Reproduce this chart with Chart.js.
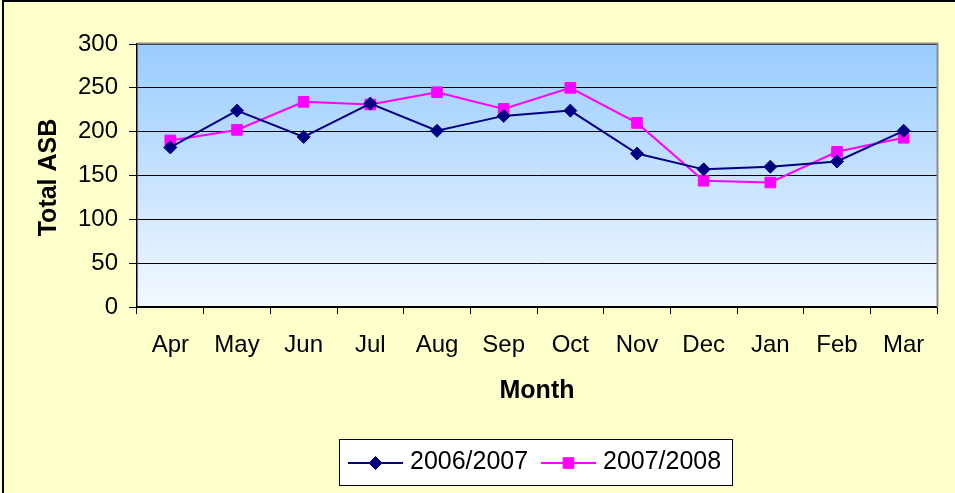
<!DOCTYPE html>
<html><head><meta charset="utf-8">
<script src="https://cdn.jsdelivr.net/npm/chart.js@4/dist/chart.umd.min.js"></script>
<style>html,body{margin:0;padding:0;background:#FFFFCC;overflow:hidden}#wrap{width:955px;height:493px;position:relative}</style>
</head><body><div id="wrap"><canvas id="c" width="955" height="493"></canvas></div>
<script>
const months = ['Apr','May','Jun','Jul','Aug','Sep','Oct','Nov','Dec','Jan','Feb','Mar'];
const series1Label = '2006/2007';
const series1 = [182,224,194,232,201,218,224,175,157,160,166,201];
const series2Label = '2007/2008';
const series2 = [190,202,234,231,245,226,250,210,144,142,177,193];
const yTicks = [0,50,100,150,200,250,300];
const xTitle = 'Month';
const yTitle = 'Total ASB';

const FONT = '"Liberation Sans", Arial, sans-serif';

const decor = {
  id: 'decor',
  beforeDraw(chart) {
    const {ctx, chartArea: a} = chart;
    ctx.save();
    ctx.fillStyle = '#FFFFCC';
    ctx.fillRect(0, 0, chart.width, chart.height);
    const g = ctx.createLinearGradient(0, a.top, 0, a.bottom);
    g.addColorStop(0, '#99CCFF');
    g.addColorStop(1, '#F3F9FF');
    ctx.fillStyle = g;
    ctx.fillRect(a.left, a.top, a.right - a.left, a.bottom - a.top);
    ctx.restore();
  },
  afterDraw(chart) {
    const {ctx, chartArea: a} = chart;
    ctx.save();
    ctx.strokeStyle = '#8C8C8C';
    ctx.lineWidth = 2;
    ctx.beginPath();
    ctx.moveTo(a.left, a.top - 0.5);
    ctx.lineTo(a.right + 0.5, a.top - 0.5);
    ctx.lineTo(a.right + 0.5, a.bottom);
    ctx.stroke();
    ctx.strokeStyle = '#000';
    ctx.lineWidth = 2;
    ctx.beginPath();
    ctx.moveTo(3, chart.height);
    ctx.lineTo(3, 1);
    ctx.lineTo(chart.width, 1);
    ctx.stroke();
    ctx.fillStyle = '#000';
    ctx.font = 'bold 25px ' + FONT;
    ctx.textAlign = 'center';
    ctx.textBaseline = 'alphabetic';
    ctx.fillText(xTitle, (a.left + a.right) / 2, 398);
    ctx.save();
    ctx.translate(56, (a.top + a.bottom) / 2 + 2);
    ctx.rotate(-Math.PI / 2);
    ctx.fillText(yTitle, 0, 0);
    ctx.restore();
    const lx = 339.5, ly = 439.5, lw = 393, lh = 46;
    ctx.fillStyle = '#FFFFFF';
    ctx.fillRect(lx, ly, lw, lh);
    ctx.strokeStyle = '#000';
    ctx.lineWidth = 1;
    ctx.strokeRect(lx, ly, lw, lh);
    const cy = 463;
    chart.data.datasets.forEach((d, i) => {
      const x0 = i === 0 ? 348 : 541;
      ctx.strokeStyle = d.borderColor;
      ctx.lineWidth = 2;
      ctx.beginPath();
      ctx.moveTo(x0, cy);
      ctx.lineTo(x0 + 55, cy);
      ctx.stroke();
      ctx.fillStyle = d.pointBackgroundColor;
      ctx.strokeStyle = d.pointBorderColor;
      ctx.lineWidth = 1;
      Chart.helpers.drawPoint(ctx, {pointStyle: d.pointStyle, radius: d.pointRadius, borderWidth: 1, rotation: 0}, x0 + 27.5, cy);
      ctx.fillStyle = '#000';
      ctx.font = '25px ' + FONT;
      ctx.textAlign = 'left';
      ctx.textBaseline = 'alphabetic';
      ctx.fillText(d.label, x0 + 62, 469);
    });
    ctx.restore();
  }
};

new Chart(document.getElementById('c'), {
  type: 'line',
  data: {
    labels: months,
    datasets: [
      {label: series1Label, data: series1, borderColor: '#000080', backgroundColor: '#000080',
       pointBackgroundColor: '#000080', pointBorderColor: '#000080', borderWidth: 2,
       pointStyle: 'rectRot', pointRadius: 6.5, pointBorderWidth: 1, tension: 0},
      {label: series2Label, data: series2, borderColor: '#FF00FF', backgroundColor: '#FF00FF',
       pointBackgroundColor: '#FF00FF', pointBorderColor: '#FF00FF', borderWidth: 2,
       pointStyle: 'rect', pointRadius: 7.5, pointBorderWidth: 1, tension: 0}
    ]
  },
  options: {
    responsive: false,
    animation: false,
    devicePixelRatio: 1,
    layout: {padding: {left: 0, top: 44, right: 18, bottom: 0}},
    plugins: {legend: {display: false}, tooltip: {enabled: false}},
    scales: {
      x: {
        type: 'category',
        offset: true,
        grid: {offset: true, drawOnChartArea: false, drawTicks: true, tickLength: 7, color: '#000', lineWidth: 1},
        border: {display: true, color: '#000', width: 1.5},
        ticks: {color: '#000', font: {family: FONT, size: 24}, padding: 17, maxRotation: 0, autoSkip: false},
        afterFit(s) { s.height = 493 - 307; }
      },
      y: {
        min: 0, max: 300,
        afterBuildTicks(s) { s.ticks = yTicks.map(v => ({value: v})); },
        grid: {color: '#000', lineWidth: 1, tickLength: 8, drawTicks: true},
        border: {display: true, color: '#000', width: 1.5},
        ticks: {color: '#000', font: {family: FONT, size: 24}, padding: 11},
        afterFit(s) { s.width = 137; }
      }
    }
  },
  plugins: [decor]
});
</script>
</body></html>
